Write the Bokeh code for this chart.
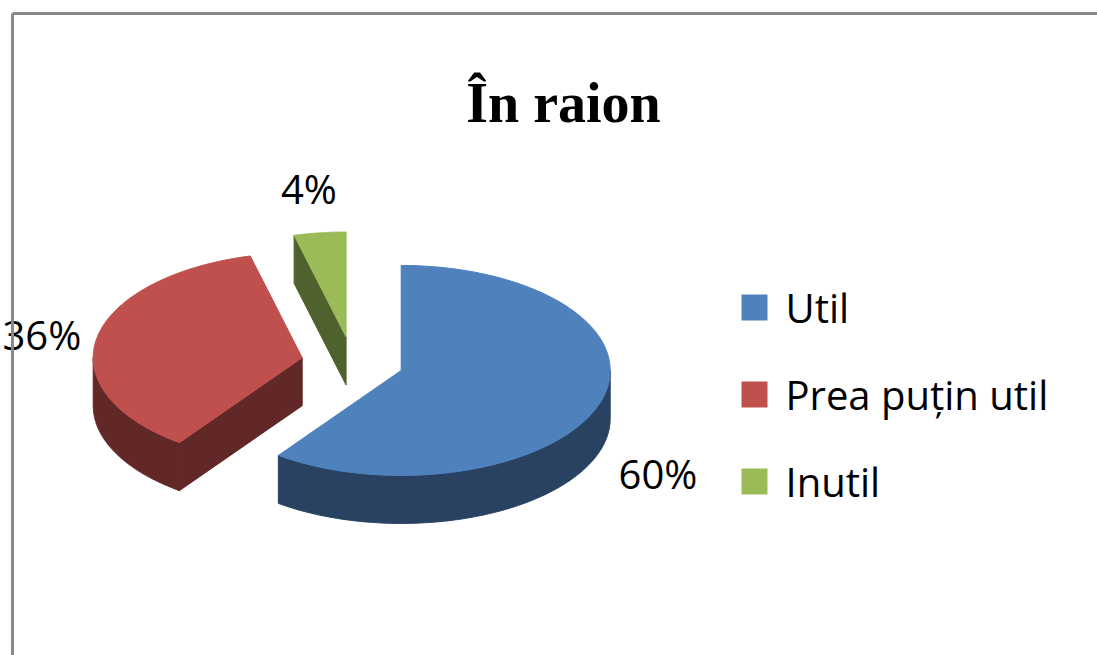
import numpy as np
from bokeh.plotting import figure
from bokeh.models import Range1d
from bokeh.core.properties import value
from bokeh.embed import file_html
from bokeh.resources import INLINE

# ---------------- data ----------------
title = "În raion"
categories = ["Util", "Prea puțin util", "Inutil"]
shares = [60, 36, 4]
labels = ["60%", "36%", "4%"]
top_colors = ["#4F81BD", "#C0504D", "#9BBB59"]
side_colors = ["#294262", "#622827", "#4F612D"]

# ---------------- layout ----------------
W, H = 1097, 655
OX, OY = 0, 0
CX, CY = 352.0, 362.0       # pie centre (screen px)
RX, RY = 209.0, 105.0       # ellipse radii of the top face
DEPTH = 48.0                # pie thickness
EXPLODE = 0.245             # explosion, fraction of radius
LABEL_OFFSETS = [(58, 71), (-55, -4), (-11, -44)]
LEG_X, LEG_Y0, LEG_DY, LEG_SQ = 754, 307, 87, 26
FONT = "Open Sans"
FS = "40px"

p = figure(width=W, height=H, x_range=Range1d(OX, OX + W), y_range=Range1d(OY + H, OY),
           output_backend="svg", toolbar_location=None, min_border=0,
           x_axis_type=None, y_axis_type=None)
p.grid.visible = False
p.outline_line_color = None
p.background_fill_color = "white"
p.border_fill_color = "white"

total = float(sum(shares))
fr = np.array(shares) / total
ends = np.cumsum(fr) * 2 * np.pi
starts = ends - fr * 2 * np.pi
mids = (starts + ends) / 2


def ell(vx, vy, th, dy=0.0):
    return vx + RX * np.sin(th), vy - RY * np.cos(th) + dy


slices = []
for i in range(len(shares)):
    a0, a1, m = starts[i], ends[i], mids[i]
    vx = CX + EXPLODE * RX * np.sin(m)
    vy = CY - EXPLODE * RY * np.cos(m)
    slices.append((vy, i, a0, a1, m, vx))

order_polys = []
for vy, i, a0, a1, m, vx in sorted(slices):
    polys = []
    # outer wall (front half visible: 90..270 deg)
    s, e = max(a0, np.pi / 2), min(a1, 3 * np.pi / 2)
    if e > s:
        t = np.linspace(s, e, 120)
        x1, y1 = ell(vx, vy, t)
        x2, y2 = ell(vx, vy, t[::-1], DEPTH)
        polys.append((list(np.r_[x1, x2]), list(np.r_[y1, y2]), side_colors[i]))
    # start-edge radial wall
    if np.sin(a0) < -1e-6:
        px, py = ell(vx, vy, a0)
        polys.append(([vx, px, px, vx], [vy, py, py + DEPTH, vy + DEPTH], side_colors[i]))
    # end-edge radial wall
    if np.sin(a1) > 1e-6:
        px, py = ell(vx, vy, a1)
        polys.append(([vx, px, px, vx], [vy, py, py + DEPTH, vy + DEPTH], side_colors[i]))
    # top face
    t = np.linspace(a0, a1, 200)
    x1, y1 = ell(vx, vy, t)
    polys.append((list(np.r_[vx, x1]), list(np.r_[vy, y1]), top_colors[i]))
    order_polys.extend(polys)

p.patches([q[0] for q in order_polys], [q[1] for q in order_polys],
          fill_color=[q[2] for q in order_polys], line_color=[q[2] for q in order_polys],
          line_width=1)

# data labels
lx, ly = [], []
for i in range(len(shares)):
    m = mids[i]
    vx = CX + EXPLODE * RX * np.sin(m)
    vy = CY - EXPLODE * RY * np.cos(m)
    ex, ey = ell(vx, vy, m)
    lx.append(ex + LABEL_OFFSETS[i][0])
    ly.append(ey + LABEL_OFFSETS[i][1])
p.text(lx, ly, text=labels, text_align="center", text_baseline="middle",
       text_font=value(FONT), text_font_size=FS, text_color="black")

# chart frame (top & left edges visible in reference), drawn over the label like the original
p.line([12, OX + W], [13, 13], line_color="#898989", line_width=3)
p.line([12, 12], [13, OY + H], line_color="#898989", line_width=3)

# title
p.text([563], [102], text=[title], text_align="center", text_baseline="alphabetic",
       text_font=value("Liberation Serif"), text_font_style="bold",
       text_font_size="56px", text_color="black")

# legend
ly_leg = [LEG_Y0 + k * LEG_DY for k in range(len(categories))]
p.rect([LEG_X] * len(categories), ly_leg, width=LEG_SQ, height=LEG_SQ,
       width_units="screen", height_units="screen", fill_color=top_colors, line_color=None)
p.text([LEG_X + 31] * len(categories), ly_leg, text=categories, text_align="left",
       text_baseline="middle", text_font=value(FONT), text_font_size=FS, text_color="black")

open("out.html", "w").write(file_html(p, INLINE))
